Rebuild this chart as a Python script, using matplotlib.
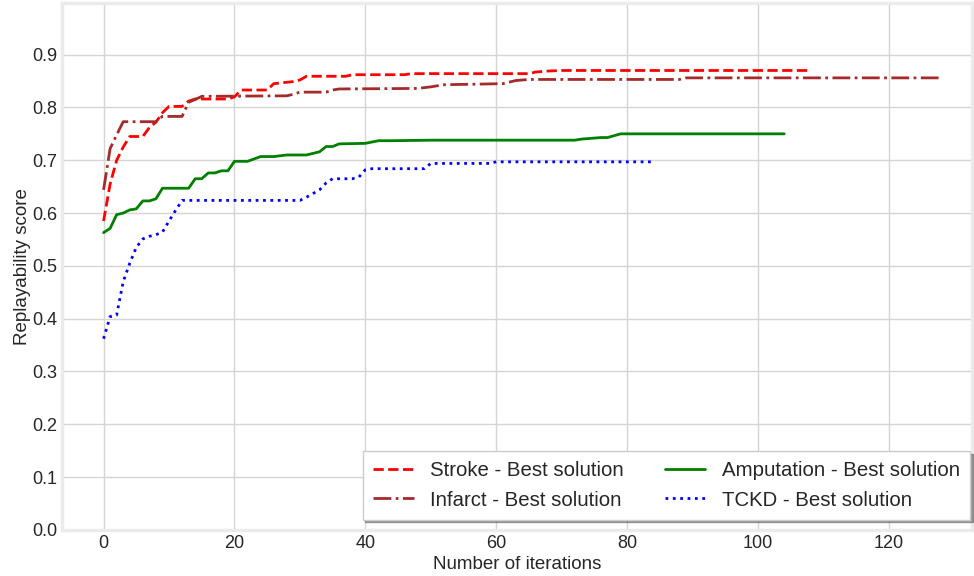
import matplotlib
matplotlib.use("Agg")
import matplotlib.pyplot as plt

# best replayability score per iteration (breakpoints)
stroke_x = [0, 1, 2, 3, 4, 6, 7, 8, 9, 10, 12, 13, 14, 19, 20, 21, 25, 26, 29, 30,
            31, 37, 38, 46, 47, 65, 66, 68, 70, 108]
stroke_y = [0.585, 0.655, 0.700, 0.725, 0.745, 0.745, 0.762, 0.772, 0.790, 0.802,
            0.802, 0.812, 0.816, 0.816, 0.820, 0.833, 0.833, 0.845, 0.849, 0.852,
            0.859, 0.859, 0.862, 0.862, 0.864, 0.864, 0.867, 0.869, 0.870, 0.870]

infarct_x = [0, 1, 2, 3, 8, 9, 12, 13, 14, 15, 28, 29, 30, 34, 35, 36, 48, 50, 52,
             61, 63, 65, 88, 89, 128]
infarct_y = [0.644, 0.722, 0.748, 0.773, 0.773, 0.783, 0.783, 0.810, 0.815, 0.821,
             0.822, 0.825, 0.829, 0.829, 0.833, 0.835, 0.836, 0.839, 0.843, 0.845,
             0.851, 0.853, 0.853, 0.856, 0.856]

amputation_x = [0, 1, 2, 3, 4, 5, 6, 7, 8, 9, 13, 14, 15, 16, 17, 18, 19, 20, 22,
                24, 26, 28, 31, 33, 34, 35, 36, 40, 42, 44, 50, 72, 73, 76, 77, 79, 104]
amputation_y = [0.563, 0.571, 0.597, 0.600, 0.606, 0.608, 0.623, 0.623, 0.627,
                0.647, 0.647, 0.665, 0.665, 0.676, 0.676, 0.680, 0.680, 0.698,
                0.698, 0.707, 0.707, 0.710, 0.710, 0.716, 0.726, 0.726, 0.731,
                0.732, 0.737, 0.737, 0.738, 0.738, 0.740, 0.743, 0.743, 0.750, 0.750]

tckd_x = [0, 1, 2, 3, 4, 5, 6, 7, 8, 9, 10, 11, 12, 30, 31, 32, 33, 34, 35, 38,
          39, 40, 41, 49, 50, 59, 60, 84]
tckd_y = [0.362, 0.404, 0.407, 0.470, 0.505, 0.535, 0.551, 0.556, 0.559, 0.564,
          0.585, 0.605, 0.624, 0.624, 0.630, 0.637, 0.644, 0.657, 0.665, 0.665,
          0.668, 0.682, 0.684, 0.684, 0.694, 0.694, 0.697, 0.697]

y_ticks = [0.0, 0.1, 0.2, 0.3, 0.4, 0.5, 0.6, 0.7, 0.8, 0.9]

plt.style.use("seaborn-v0_8-whitegrid")
plt.rcParams["font.family"] = ["Liberation Sans", "DejaVu Sans"]

fig, ax = plt.subplots(figsize=(9.74, 5.76), dpi=100)
fig.subplots_adjust(left=0.064, right=0.998, bottom=0.080, top=0.995)

ax.plot(stroke_x, stroke_y, color="red", linestyle="--", linewidth=2,
        label="Stroke - Best solution")
ax.plot(infarct_x, infarct_y, color="brown", linestyle="-.", linewidth=2,
        label="Infarct - Best solution")
ax.plot(amputation_x, amputation_y, color="green", linestyle="-", linewidth=2,
        label="Amputation - Best solution")
ax.plot(tckd_x, tckd_y, color="blue", linestyle=":", linewidth=2,
        label="TCKD - Best solution")

ax.set_xlim(-6.3, 132.7)
ax.set_ylim(0, 0.998)
ax.set_yticks(y_ticks)
ax.tick_params(labelsize=13, colors="#262626")
ax.set_xlabel("Number of iterations", fontsize=13.5, color="#262626", labelpad=3)
ax.set_ylabel("Replayability score", fontsize=13.5, color="#262626", labelpad=1)

ax.grid(True, color="#d5d5d5", linewidth=1)
for sp in ax.spines.values():
    sp.set_color("#ebebeb")
    sp.set_linewidth(2.5)

# legend box sits nearly against the right edge
leg = ax.legend(loc="lower right", bbox_to_anchor=(1.009, 0.0), ncol=2,
                fontsize=14.7, frameon=True, shadow=True, fancybox=False,
                borderaxespad=0.5, borderpad=0.5)
leg.get_frame().set_edgecolor("#cccccc")

plt.savefig("out.png", dpi=100)
